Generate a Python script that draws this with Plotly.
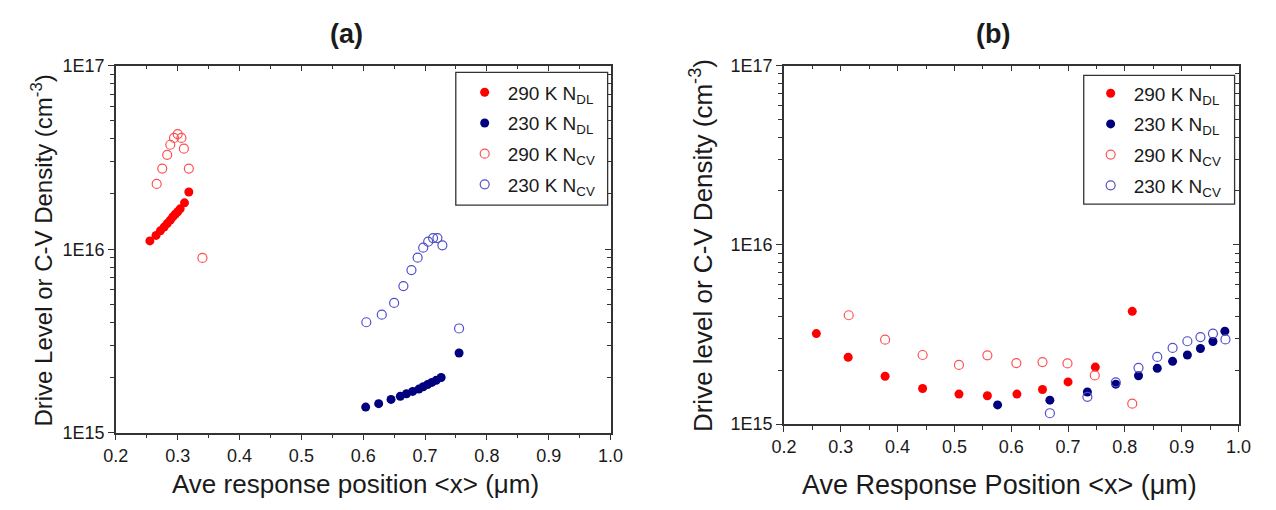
import plotly.graph_objects as go

# ---- panel (a) data ----
a_x_dl290 = [0.255, 0.265, 0.272, 0.278, 0.283, 0.288, 0.292, 0.296, 0.300, 0.304, 0.311, 0.318]
a_y_dl290 = [1.11e16, 1.19e16, 1.26e16, 1.32e16, 1.38e16, 1.44e16, 1.50e16, 1.55e16, 1.60e16, 1.66e16, 1.79e16, 2.05e16]

a_x_dl230 = [0.604, 0.625, 0.645, 0.660, 0.670, 0.680, 0.690, 0.697, 0.704, 0.711, 0.718, 0.726, 0.755]
a_y_dl230 = [1.38e15, 1.44e15, 1.52e15, 1.58e15, 1.63e15, 1.68e15, 1.73e15, 1.78e15, 1.83e15, 1.88e15, 1.93e15, 2.00e15, 2.72e15]

a_x_cv290 = [0.266, 0.275, 0.283, 0.288, 0.294, 0.300, 0.306, 0.310, 0.318, 0.340]
a_y_cv290 = [2.27e16, 2.75e16, 3.27e16, 3.71e16, 4.04e16, 4.24e16, 4.04e16, 3.53e16, 2.75e16, 8.97e15]

a_x_cv230 = [0.605, 0.630, 0.650, 0.665, 0.678, 0.688, 0.697, 0.705, 0.713, 0.720, 0.728, 0.755]
a_y_cv230 = [4.0e15, 4.4e15, 5.1e15, 6.3e15, 7.7e15, 9.0e15, 1.02e16, 1.10e16, 1.15e16, 1.15e16, 1.05e16, 3.7e15]

# ---- panel (b) data ----
b_x_dl290 = [0.257, 0.313, 0.378, 0.444, 0.508, 0.558, 0.610, 0.655, 0.700, 0.748, 0.813]
b_y_dl290 = [3.20e15, 2.36e15, 1.85e15, 1.58e15, 1.47e15, 1.44e15, 1.47e15, 1.56e15, 1.72e15, 2.08e15, 4.26e15]

b_x_dl230 = [0.576, 0.668, 0.734, 0.784, 0.824, 0.857, 0.884, 0.910, 0.933, 0.955, 0.976]
b_y_dl230 = [1.28e15, 1.36e15, 1.51e15, 1.67e15, 1.86e15, 2.05e15, 2.24e15, 2.43e15, 2.64e15, 2.89e15, 3.30e15]

b_x_cv290 = [0.314, 0.378, 0.444, 0.508, 0.558, 0.609, 0.655, 0.699, 0.747, 0.813]
b_y_cv290 = [4.05e15, 2.96e15, 2.43e15, 2.14e15, 2.42e15, 2.19e15, 2.22e15, 2.18e15, 1.87e15, 1.30e15]

b_x_cv230 = [0.668, 0.734, 0.784, 0.824, 0.857, 0.884, 0.910, 0.933, 0.955, 0.977]
b_y_cv230 = [1.15e15, 1.42e15, 1.71e15, 2.06e15, 2.37e15, 2.66e15, 2.90e15, 3.06e15, 3.20e15, 2.97e15]

legend_names = ["290 K N<sub>DL</sub>", "230 K N<sub>DL</sub>",
                "290 K N<sub>CV</sub>", "230 K N<sub>CV</sub>"]
x_ticks = [0.2, 0.3, 0.4, 0.5, 0.6, 0.7, 0.8, 0.9, 1.0]
y_ticks = [1e15, 1e16, 1e17]
y_ticktext = ["1E15", "1E16", "1E17"]

W, H = 1276, 510
FONT = "Liberation Sans, Arial, sans-serif"
INK = "#1a1a1a"
RED, NAVY = "#ff0000", "#00007f"
RED_OPEN, BLUE_OPEN = "#ff5050", "#5050c8"


def px(x):
    return x / W


def py(y):
    return 1 - y / H


def series_traces(xa, ya, legend, sets):
    out = []
    styles = [
        dict(symbol="circle", size=9, color=RED),
        dict(symbol="circle", size=9, color=NAVY),
        dict(symbol="circle-open", size=9, color=RED_OPEN, line=dict(width=1.2, color=RED_OPEN)),
        dict(symbol="circle-open", size=9, color=BLUE_OPEN, line=dict(width=1.2, color=BLUE_OPEN)),
    ]
    for i, ((xs, ys), name, st) in enumerate(zip(sets, legend_names, styles)):
        out.append(go.Scatter(x=xs, y=ys, mode="markers", name=name, marker=st,
                              xaxis=xa, yaxis=ya, legend=legend,
                              legendgroup=f"{legend}-{i}"))
    return out


fig = go.Figure()
for t in series_traces("x", "y", "legend",
                       [(a_x_dl290, a_y_dl290), (a_x_dl230, a_y_dl230),
                        (a_x_cv290, a_y_cv290), (a_x_cv230, a_y_cv230)]):
    fig.add_trace(t)
for t in series_traces("x2", "y2", "legend2",
                       [(b_x_dl290, b_y_dl290), (b_x_dl230, b_y_dl230),
                        (b_x_cv290, b_y_cv290), (b_x_cv230, b_y_cv230)]):
    fig.add_trace(t)

# panel frames in pixel coordinates: (left, right, top, bottom)
boxA = (105, 610, 58, 440)
boxB = (787, 1251, 58, 431)

tickfont = dict(family=FONT, size=18, color=INK)


def xaxis_cfg(box):
    return dict(domain=[px(box[0]), px(box[1])], range=[0.2, 1.0],
                tickvals=x_ticks, tickformat=".1f", ticks="outside", ticklen=6,
                tickwidth=1.2, tickcolor="#333", linecolor="#333", linewidth=1.5,
                showline=True, showgrid=False, zeroline=False, tickfont=tickfont,
                minor=dict(dtick=0.05, ticks="outside", ticklen=4, tickcolor="#333", showgrid=False),
                fixedrange=True)


def yaxis_cfg(box, anchor):
    return dict(domain=[py(box[3]), py(box[2])], type="log", range=[15, 17],
                tickvals=y_ticks, ticktext=y_ticktext, ticks="outside", ticklen=6,
                tickwidth=1.2, tickcolor="#333", linecolor="#333", linewidth=1.5,
                showline=True, showgrid=False, zeroline=False, tickfont=tickfont,
                minor=dict(dtick="D1", ticks="outside", ticklen=4, tickcolor="#333", showgrid=False),
                anchor=anchor, fixedrange=True)


def mirror_x(box, overlay, anchor):
    return dict(domain=[px(box[0]), px(box[1])], range=[0.2, 1.0], overlaying=overlay,
                side="top", anchor=anchor, tickvals=x_ticks, showticklabels=False,
                ticks="inside", ticklen=6, tickcolor="#333", linecolor="#333", linewidth=1.5,
                showline=True, showgrid=False, zeroline=False,
                minor=dict(dtick=0.05, ticks="inside", ticklen=4, tickcolor="#333", showgrid=False))


def mirror_y(box, overlay, anchor):
    return dict(domain=[py(box[3]), py(box[2])], type="log", range=[15, 17], overlaying=overlay,
                side="right", anchor=anchor, tickvals=y_ticks, showticklabels=False,
                ticks="inside", ticklen=6, tickcolor="#333", linecolor="#333", linewidth=1.5,
                showline=True, showgrid=False, zeroline=False,
                minor=dict(dtick="D1", ticks="inside", ticklen=4, tickcolor="#333", showgrid=False))


# empty traces keep the mirror axes drawn
fig.add_trace(go.Scatter(x=[], y=[], xaxis="x3", yaxis="y3", showlegend=False))
fig.add_trace(go.Scatter(x=[], y=[], xaxis="x4", yaxis="y4", showlegend=False))

legend_common = dict(bgcolor="rgba(0,0,0,0)", borderwidth=0,
                     font=dict(family=FONT, size=19, color=INK),
                     xanchor="left", yanchor="top", itemsizing="trace",
                     itemwidth=36, tracegroupgap=3)

fig.update_layout(
    width=W, height=H, margin=dict(l=0, r=0, t=0, b=0),
    paper_bgcolor="white", plot_bgcolor="white",
    xaxis=dict(**xaxis_cfg(boxA), anchor="y"),
    yaxis=yaxis_cfg(boxA, "x"),
    xaxis2=dict(**xaxis_cfg(boxB), anchor="y2"),
    yaxis2=yaxis_cfg(boxB, "x2"),
    xaxis3=mirror_x(boxA, "x", "y"),
    yaxis3=mirror_y(boxA, "y", "x"),
    xaxis4=mirror_x(boxB, "x2", "y2"),
    yaxis4=mirror_y(boxB, "y2", "x2"),
    legend=dict(**legend_common, x=px(458), y=py(66)),
    legend2=dict(**legend_common, x=px(1097), y=py(67)),
    showlegend=True,
)

# legend frames
for (x0, x1, y0, y1) in [(452, 607, 65, 203), (1093, 1247, 68, 202)]:
    fig.add_shape(type="rect", xref="paper", yref="paper",
                  x0=px(x0), x1=px(x1), y0=py(y1), y1=py(y0),
                  line=dict(color="#333", width=1.3), fillcolor="white", layer="below")

annotations = [
    dict(text="<b>(a)</b>", x=px(340), y=py(25), font=dict(family=FONT, size=27, color=INK)),
    dict(text="<b>(b)</b>", x=px(1000), y=py(25), font=dict(family=FONT, size=27, color=INK)),
    dict(text="Ave response position &lt;x&gt; (\u03bcm)", x=px(350), y=py(493),
         font=dict(family=FONT, size=26, color=INK)),
    dict(text="Ave Response Position &lt;x&gt; (\u03bcm)", x=px(1007), y=py(494),
         font=dict(family=FONT, size=27, color=INK)),
    dict(text="Drive Level or C-V Density (cm<sup>-3</sup>)", x=px(30), y=py(250),
         textangle=-90, font=dict(family=FONT, size=24, color=INK)),
    dict(text="Drive level or C-V Density (cm<sup>-3</sup>)", x=px(703), y=py(245),
         textangle=-90, font=dict(family=FONT, size=26, color=INK)),
]
for a in annotations:
    fig.add_annotation(xref="paper", yref="paper", showarrow=False,
                       xanchor="center", yanchor="middle", **a)

fig.write_html("out.html")
